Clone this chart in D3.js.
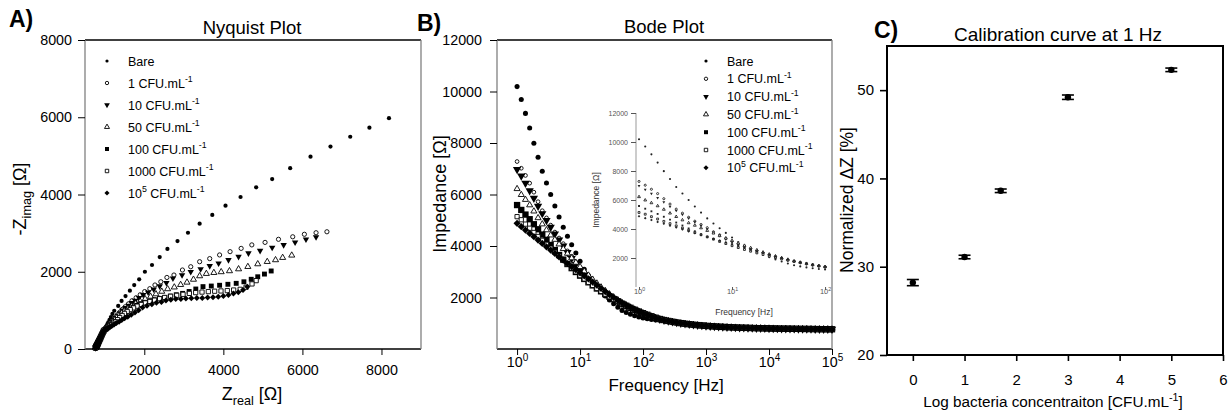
<!DOCTYPE html>
<html>
<head>
<meta charset="utf-8">
<script src="https://cdn.jsdelivr.net/npm/d3@7"></script>
<style>
body { margin: 0; background: #fff; }
svg { display: block; font-family: Arial, "Liberation Sans", sans-serif; }
</style>
</head>
<body>
<svg id="fig" width="1228" height="411"></svg>
<script>
// measured frequencies, 1 Hz .. 100 kHz
var freqHz = [1, 1.166, 1.359, 1.585, 1.848, 2.154, 2.512, 2.929, 3.415, 3.981, 4.642, 5.412, 6.31, 7.356, 8.577,
    10, 11.66, 13.59, 15.85, 18.48, 21.54, 25.12, 29.29, 34.15, 39.81, 46.42, 54.12, 63.1, 73.56, 85.77,
    100, 116.6, 135.9, 158.5, 184.8, 215.4, 251.2, 292.9, 341.5, 398.1, 464.2, 541.2, 631, 735.6, 857.7,
    1000, 1166, 1359, 1585, 1848, 2154, 2512, 2929, 3415, 3981, 4642, 5412, 6310, 7356, 8577,
    10000, 11660, 13590, 15850, 18480, 21540, 25120, 29290, 34150, 39810, 46420, 54120, 63100, 73560, 85770, 100000];

// |Z| (ohm), first 36 frequencies for each sample, then the common high-frequency part
var bodeBare = [10190, 9690, 9150, 8580, 7990, 7450, 6900, 6450, 6000, 5550, 5130, 4730, 4380, 4050, 3730, 3410, 3100, 2850, 2610, 2410,
    2230, 2060, 1900, 1760, 1620, 1500, 1420, 1350, 1290, 1245, 1205, 1175, 1150, 1130, 1115, 1105];
var bode1 = [7280, 7020, 6740, 6440, 6090, 5720, 5370, 5090, 4810, 4540, 4310, 4090, 3810, 3600, 3370, 3170, 2980, 2810, 2650, 2500,
    2360, 2230, 2100, 1980, 1870, 1770, 1680, 1600, 1525, 1455, 1390, 1330, 1270, 1215, 1165, 1125];
var bode10 = [6975, 6720, 6440, 6150, 5855, 5550, 5260, 4990, 4730, 4470, 4240, 4000, 3750, 3520, 3290, 3080, 2890, 2720, 2560, 2420,
    2290, 2170, 2060, 1960, 1860, 1760, 1670, 1590, 1515, 1445, 1380, 1320, 1265, 1210, 1160, 1120];
var bode50 = [6220, 5990, 5800, 5590, 5350, 5090, 4850, 4620, 4420, 4250, 4070, 3890, 3710, 3530, 3360, 3190, 3020, 2860, 2700, 2550,
    2400, 2260, 2130, 2010, 1900, 1790, 1700, 1615, 1535, 1460, 1390, 1325, 1265, 1210, 1160, 1120];
var bode100 = [5590, 5400, 5220, 5040, 4845, 4650, 4445, 4240, 4040, 3845, 3650, 3470, 3300, 3140, 2990, 2850, 2720, 2590, 2470, 2350,
    2240, 2130, 2030, 1940, 1850, 1760, 1680, 1600, 1525, 1455, 1390, 1330, 1270, 1215, 1165, 1125];
var bode1000 = [5140, 5020, 4850, 4690, 4525, 4370, 4220, 4065, 3915, 3760, 3610, 3455, 3300, 3145, 2995, 2850, 2720, 2590, 2470, 2350,
    2240, 2130, 2030, 1935, 1845, 1760, 1680, 1600, 1525, 1455, 1390, 1330, 1270, 1215, 1165, 1125];
var bode1e5 = [4880, 4750, 4620, 4490, 4360, 4230, 4100, 3970, 3840, 3710, 3580, 3450, 3320, 3200, 3080, 2960, 2840, 2720, 2600, 2480,
    2350, 2230, 2110, 2000, 1890, 1790, 1700, 1615, 1535, 1460, 1390, 1325, 1265, 1210, 1160, 1120];
var bodeTail = [1090, 1060, 1030, 1005, 982, 962, 944, 928, 913, 900, 888, 877, 867, 858, 850, 843, 836, 830, 825, 820,
    815, 811, 807, 804, 800, 797, 794, 791, 789, 786, 784, 782, 780, 778, 776, 774, 772, 770, 768, 766];

// Nyquist points [Z real, -Z imag] (ohm), same frequencies
var nyqBare = [[8190,5975],[7695,5730],[7210,5495],[6710,5240],[6205,4980],[5690,4680],[5235,4400],[4830,4185],[4435,3935],[4055,3710],
    [3720,3470],[3400,3245],[3105,3010],[2840,2795],[2585,2590],[2390,2380],[2195,2175],[2015,2000],[1870,1805],[1745,1655],
    [1635,1510],[1525,1370],[1425,1245],[1340,1115],[1240,990],[1194,908],[1155,826],[1120,754],[1089,692],[1066,644],
    [1045,601],[1029,568],[1015,540],[1004,518],[996,501],[991,490]];
var nyq1 = [[6620,3035],[6345,3010],[6050,2970],[5755,2905],[5395,2840],[5055,2760],[4720,2695],[4450,2605],[4170,2520],[3905,2435],
    [3655,2340],[3400,2260],[3175,2130],[2965,2045],[2750,1915],[2572,1852],[2418,1741],[2270,1657],[2140,1562],[2010,1487],
    [1897,1404],[1793,1327],[1688,1249],[1599,1167],[1518,1093],[1443,1025],[1383,954],[1329,891],[1279,831],[1231,776],
    [1187,724],[1146,676],[1103,629],[1065,586],[1029,546],[1002,511]];
var nyq10 = [[6345,2900],[6090,2840],[5815,2760],[5525,2695],[5235,2625],[4930,2545],[4635,2480],[4385,2390],[4130,2305],[3880,2220],
    [3655,2150],[3425,2070],[3175,2000],[2955,1915],[2725,1830],[2559,1714],[2390,1625],[2239,1545],[2097,1468],[1973,1401],
    [1867,1326],[1769,1256],[1680,1193],[1606,1124],[1524,1067],[1449,1000],[1387,930],[1333,867],[1282,808],[1234,753],
    [1189,701],[1147,654],[1108,610],[1069,567],[1033,527],[1002,501]];
var nyq50 = [[5730,2425],[5500,2365],[5320,2305],[5110,2260],[4870,2200],[4620,2130],[4385,2070],[4155,2020],[3945,1995],[3760,1975],
    [3570,1950],[3400,1890],[3244,1800],[3080,1725],[2919,1664],[2759,1600],[2590,1554],[2442,1489],[2295,1423],[2158,1359],
    [2022,1294],[1895,1232],[1778,1173],[1678,1107],[1586,1047],[1494,986],[1425,927],[1360,871],[1305,809],[1252,751],
    [1202,697],[1156,647],[1108,610],[1069,567],[1033,527],[1002,501]];
var nyq100 = [[5210,2020],[5040,1940],[4870,1870],[4705,1805],[4520,1740],[4325,1700],[4115,1675],[3905,1650],[3695,1630],[3485,1615],
    [3303,1553],[3134,1489],[2969,1440],[2808,1404],[2658,1369],[2518,1335],[2383,1311],[2255,1274],[2137,1239],[2015,1209],
    [1908,1174],[1806,1129],[1718,1082],[1641,1034],[1565,986],[1496,928],[1434,875],[1372,823],[1319,765],[1269,711],
    [1218,670],[1170,632],[1122,595],[1078,561],[1038,529],[1006,503]];
var nyq1000 = [[4830,1770],[4725,1685],[4575,1600],[4425,1545],[4260,1527],[4100,1512],[3940,1503],[3780,1496],[3620,1486],[3460,1474],
    [3300,1460],[3140,1440],[2980,1416],[2820,1390],[2665,1365],[2515,1335],[2388,1302],[2260,1265],[2141,1231],[2024,1194],
    [1921,1153],[1818,1109],[1729,1064],[1645,1020],[1568,972],[1499,922],[1440,868],[1378,815],[1324,760],[1273,707],
    [1222,666],[1174,628],[1126,591],[1082,558],[1041,527],[1008,502]];
var nyq1e5 = [[4606,1612],[4497,1529],[4379,1471],[4255,1434],[4129,1400],[4001,1372],[3871,1351],[3738,1338],[3602,1332],[3467,1321],
    [3329,1318],[3190,1314],[3052,1306],[2926,1296],[2796,1292],[2671,1277],[2548,1254],[2433,1216],[2307,1200],[2191,1161],
    [2068,1117],[1956,1072],[1857,1003],[1763,943],[1670,885],[1582,838],[1502,796],[1430,751],[1362,708],[1295,674],
    [1236,636],[1180,602],[1127,575],[1080,545],[1038,519],[1002,501]];
var nyqTail = [[977,484],[961,448],[944,412],[930,382],[917,353],[905,328],[894,304],[884,283],[875,263],[866,245],
    [858,228],[851,213],[844,198],[838,185],[833,173],[828,162],[822,151],[818,142],[814,134],[811,126],
    [807,117],[804,111],[800,104],[798,99],[795,92],[792,87],[790,81],[787,76],[786,72],[783,67],
    [782,63],[780,60],[778,56],[776,52],[775,48],[773,45],[771,41],[769,37],[767,33],[766,29]];

// calibration curve at 1 Hz
var calLog = [0, 1, 1.7, 3, 5];
var calDZ = [28.2, 31.1, 38.6, 49.2, 52.3];
var calErr = [0.35, 0.2, 0.2, 0.25, 0.2];

var legendParts = [
    [["Bare"]],
    [["1 CFU.mL"], ["-1", "sup"]],
    [["10 CFU.mL"], ["-1", "sup"]],
    [["50 CFU.mL"], ["-1", "sup"]],
    [["100 CFU.mL"], ["-1", "sup"]],
    [["1000 CFU.mL"], ["-1", "sup"]],
    [["10"], ["5", "sup"], [" CFU.mL"], ["-1", "sup"]]
];
var yTicksNyq = [0, 2000, 4000, 6000, 8000];
var xTicksNyq = [2000, 4000, 6000, 8000];
var yTicksBode = [2000, 4000, 6000, 8000, 10000, 12000];
var xTicksBode = [1, 10, 100, 1000, 10000, 100000];
var xTicksInset = [1, 10, 100];
var xTicksCal = [0, 1, 2, 3, 4, 5, 6];
var yTicksCal = [20, 30, 40, 50];

var series = [
    {nyq: nyqBare, bode: bodeBare},
    {nyq: nyq1, bode: bode1},
    {nyq: nyq10, bode: bode10},
    {nyq: nyq50, bode: bode50},
    {nyq: nyq100, bode: bode100},
    {nyq: nyq1000, bode: bode1000},
    {nyq: nyq1e5, bode: bode1e5}
];

// marker look per sample
var shapes = [d3.symbolCircle, d3.symbolCircle, d3.symbolTriangle, d3.symbolTriangle, d3.symbolSquare, d3.symbolSquare, d3.symbolSquare];
var filled = [true, false, true, false, true, false, true];
var rot = ["", "", " rotate(180)", "", "", "", " rotate(45)"];
var sizeNyq = [14, 14, 18, 16, 24, 18, 18];
var sizeBode = [20, 11, 30, 16, 40, 18, 26];
var sizeLeg = [8, 9, 14, 11, 16, 12, 13];

var svg = d3.select("#fig");
svg.append("rect").attr("width", 1228).attr("height", 411).attr("fill", "#fff");

function rich(t, parts, size) {
    var shift = 0;
    parts.forEach(function(p) {
        var off = p[1] === "sup" ? -0.42 * size : p[1] === "sub" ? 0.3 * size : 0;
        t.append("tspan")
            .attr("dy", off - shift)
            .attr("font-size", p[1] ? size * 0.7 : size)
            .text(p[0]);
        shift = off;
    });
    return t;
}

function label(g, x, y, parts, size, anchor, rotate, weight) {
    var t = g.append("text")
        .attr("transform", "translate(" + x + "," + y + ")" + (rotate ? " rotate(" + rotate + ")" : ""))
        .attr("text-anchor", anchor || "middle")
        .attr("font-size", size)
        .attr("fill", "#000");
    if (weight) t.attr("font-weight", weight);
    return rich(t, parts, size);
}

function markers(g, pts, k, size, color, xs, ys) {
    g.append("g").selectAll("path")
        .data(pts)
        .join("path")
        .attr("transform", function(d) { return "translate(" + xs(d[0]) + "," + ys(d[1]) + ")" + rot[k]; })
        .attr("d", d3.symbol().type(shapes[k]).size(size))
        .attr("fill", filled[k] ? color : "#fff")
        .attr("stroke", color)
        .attr("stroke-width", filled[k] ? 0 : 0.9);
}

function styleAxis(a, size, color) {
    a.attr("font-family", null).attr("font-size", null);
    a.select(".domain").remove();
    a.selectAll(".tick line").attr("stroke", color || "#000").attr("stroke-width", 1);
    a.selectAll(".tick text").attr("font-size", size).attr("fill", color || "#000");
}

function legend(g, x0, y0, step, fontSize) {
    legendParts.forEach(function(p, k) {
        var y = y0 + k * step;
        markers(g, [[0, 0]], k, sizeLeg[k], "#000", function() { return x0; }, function() { return y; });
        label(g, x0 + 21, y + fontSize * 0.36, p, fontSize, "start");
    });
}

/* ---------- A) Nyquist ---------- */
var gA = svg.append("g");
var xA = d3.scaleLinear().domain([500, 9000]).range([85, 421]);
var yA = d3.scaleLinear().domain([0, 8000]).range([349, 40]);

gA.append("line").attr("x1", 85).attr("x2", 421).attr("y1", 40).attr("y2", 40).attr("stroke", "#000").attr("stroke-width", 1.3);
gA.append("line").attr("x1", 85).attr("x2", 421).attr("y1", 349).attr("y2", 349).attr("stroke", "#000").attr("stroke-width", 1.3);
gA.append("line").attr("x1", 85).attr("x2", 85).attr("y1", 40).attr("y2", 349).attr("stroke", "#808080").attr("stroke-width", 1.3);
gA.append("line").attr("x1", 421).attr("x2", 421).attr("y1", 40).attr("y2", 349).attr("stroke", "#808080").attr("stroke-width", 1.3);

var ayA = gA.append("g").attr("transform", "translate(85,0)")
    .call(d3.axisLeft(yA).tickValues(yTicksNyq).tickSize(7).tickPadding(6).tickFormat(d3.format("d")));
styleAxis(ayA, 14.3);
var axA = gA.append("g").attr("transform", "translate(0,349)")
    .call(d3.axisBottom(xA).tickValues(xTicksNyq).tickSize(6).tickPadding(10).tickFormat(d3.format("d")));
styleAxis(axA, 14.3);

series.forEach(function(s, k) {
    markers(gA, s.nyq.concat(nyqTail), k, sizeNyq[k], "#000", xA, yA);
});
legend(gA, 107, 61, 22, 12.5);

label(gA, 252, 34, [["Nyquist Plot"]], 18.5);
label(gA, 9, 27, [["A)"]], 23, "start", 0, "bold");
label(gA, 26, 199, [["-Z"], ["imag", "sub"], [" [\u03A9]"]], 18, "middle", -90);
label(gA, 252, 400, [["Z"], ["real", "sub"], [" [\u03A9]"]], 18);

/* ---------- B) Bode ---------- */
var gB = svg.append("g");
var xB = d3.scaleLog().domain([0.48, 100000]).range([497, 832]);
var yB = d3.scaleLinear().domain([0, 12000]).range([349, 40]);

gB.append("line").attr("x1", 497).attr("x2", 832).attr("y1", 40).attr("y2", 40).attr("stroke", "#000").attr("stroke-width", 1.3);
gB.append("line").attr("x1", 497).attr("x2", 832).attr("y1", 349).attr("y2", 349).attr("stroke", "#000").attr("stroke-width", 1.3);
gB.append("line").attr("x1", 497).attr("x2", 497).attr("y1", 40).attr("y2", 349).attr("stroke", "#808080").attr("stroke-width", 1.3);
gB.append("line").attr("x1", 832).attr("x2", 832).attr("y1", 40).attr("y2", 349).attr("stroke", "#808080").attr("stroke-width", 1.3);

var ayB = gB.append("g").attr("transform", "translate(497,0)")
    .call(d3.axisLeft(yB).tickValues(yTicksBode).tickSize(7).tickPadding(8).tickFormat(d3.format("d")));
styleAxis(ayB, 14.3);
var axB = gB.append("g").attr("transform", "translate(0,349)")
    .call(d3.axisBottom(xB).tickValues(xTicksBode).tickSize(6).tickPadding(12).tickFormat(""));
styleAxis(axB, 14.3);
axB.selectAll(".tick text").each(function(d) {
    rich(d3.select(this), [["10"], [String(Math.round(Math.log10(d))), "sup"]], 14.3);
});

series.forEach(function(s, k) {
    var pts = s.bode.concat(bodeTail).map(function(v, i) { return [freqHz[i], v]; });
    markers(gB, pts, k, sizeBode[k], "#000", xB, yB);
});
legend(gB, 706, 61, 17.8, 12.5);

// inset: 1-100 Hz
var xI = d3.scaleLog().domain([0.928, 113]).range([636, 830]);
var yI = d3.scaleLinear().domain([0, 12000]).range([287, 113]);
gB.append("line").attr("x1", 636).attr("x2", 636).attr("y1", 113).attr("y2", 287).attr("stroke", "#999").attr("stroke-width", 1);
var ayI = gB.append("g").attr("transform", "translate(636,0)")
    .call(d3.axisLeft(yI).tickValues(yTicksBode).tickSize(5).tickPadding(3).tickFormat(d3.format("d")));
styleAxis(ayI, 7, "#555");
var axI = gB.append("g").attr("transform", "translate(0,287)")
    .call(d3.axisBottom(xI).tickValues(xTicksInset).tickSize(3).tickPadding(4).tickFormat(""));
styleAxis(axI, 7.5, "#555");
axI.selectAll(".tick text").each(function(d) {
    rich(d3.select(this), [["10"], [String(Math.round(Math.log10(d))), "sup"]], 7.5);
});
series.forEach(function(s, k) {
    var pts = s.bode.map(function(v, i) { return [freqHz[i], v]; }).filter(function(d) { return d[0] <= 101; });
    markers(gB, pts, k, 3.5, "#222", xI, yI);
});
label(gB, 744, 315, [["Frequency  [Hz]"]], 8.5).attr("fill", "#333");
label(gB, 599, 200, [["Impedance [\u03A9]"]], 8.5, "middle", -90).attr("fill", "#333");

label(gB, 664, 33, [["Bode Plot"]], 18.5);
label(gB, 417, 31, [["B)"]], 23, "start", 0, "bold");
label(gB, 446, 194, [["Impedance [\u03A9]"]], 18, "middle", -90);
label(gB, 666, 391, [["Frequency [Hz]"]], 17);

/* ---------- C) Calibration ---------- */
var gC = svg.append("g");
var xC = d3.scaleLinear().domain([-0.5, 6]).range([887, 1223]);
var yC = d3.scaleLinear().domain([20, 55]).range([355, 46]);

gC.append("rect").attr("x", 887).attr("y", 46).attr("width", 336).attr("height", 309)
    .attr("fill", "none").attr("stroke", "#000").attr("stroke-width", 2);
var ayC = gC.append("g").attr("transform", "translate(887,0)")
    .call(d3.axisLeft(yC).tickValues(yTicksCal).tickSize(7).tickPadding(6).tickFormat(d3.format("d")));
styleAxis(ayC, 15);
ayC.selectAll(".tick line").attr("stroke-width", 1.6);
var axC = gC.append("g").attr("transform", "translate(0,355)")
    .call(d3.axisBottom(xC).tickValues(xTicksCal).tickSize(6).tickPadding(13).tickFormat(d3.format("d")));
styleAxis(axC, 15);
axC.selectAll(".tick line").attr("stroke-width", 1.6);

var cal = calLog.map(function(v, i) { return {x: v, y: calDZ[i], e: calErr[i]}; });
var pt = gC.append("g").selectAll("g").data(cal).join("g");
pt.append("line")
    .attr("x1", function(d) { return xC(d.x); }).attr("x2", function(d) { return xC(d.x); })
    .attr("y1", function(d) { return yC(d.y - d.e); }).attr("y2", function(d) { return yC(d.y + d.e); })
    .attr("stroke", "#000").attr("stroke-width", 1.5);
[-1, 1].forEach(function(sg) {
    pt.append("line")
        .attr("x1", function(d) { return xC(d.x) - 6; }).attr("x2", function(d) { return xC(d.x) + 6; })
        .attr("y1", function(d) { return yC(d.y + sg * d.e); }).attr("y2", function(d) { return yC(d.y + sg * d.e); })
        .attr("stroke", "#000").attr("stroke-width", 1.6);
});
pt.append("circle")
    .attr("cx", function(d) { return xC(d.x); }).attr("cy", function(d) { return yC(d.y); })
    .attr("r", 3.2).attr("fill", "#000");

label(gC, 1058, 41, [["Calibration curve at 1 Hz"]], 19);
label(gC, 874, 38, [["C)"]], 23, "start", 0, "bold");
label(gC, 853, 200, [["Normalized \u0394Z [%]"]], 17.5, "middle", -90);
label(gC, 1053, 407, [["Log bacteria concentraiton [CFU.mL"], ["-1", "sup"], ["]"]], 15.3);
</script>
</body>
</html>
